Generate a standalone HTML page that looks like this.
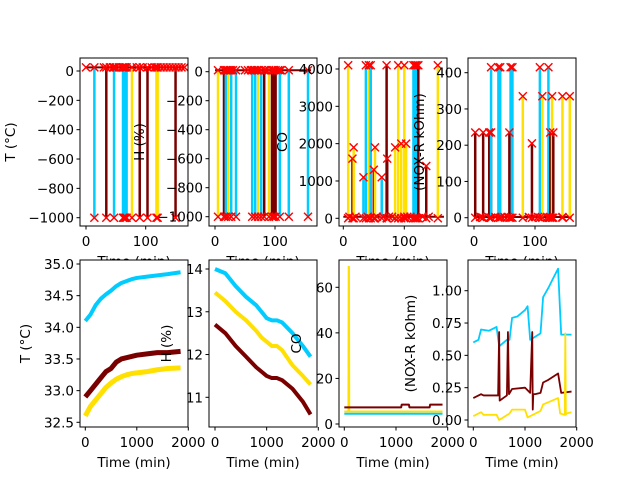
<!DOCTYPE html>
<html><head><meta charset="utf-8"><style>
html,body{margin:0;padding:0;background:#fff}
svg text{font-family:"DejaVu Sans","Liberation Sans",sans-serif;font-size:13.5px;fill:#000}
</style></head><body>
<svg id="c" width="640" height="480" viewBox="0 0 640 480" xmlns="http://www.w3.org/2000/svg"></svg>
<script>
const CY="#00ccff",MR="#7a0000",GD="#ffe000";
// ---- top row data (event lines) ----
const t1X=[14,34,47,62,64,66,68,77,90,103,118,120,150];
const t1C=["c","m","c","c","c","c","c","g","m","m","g","g","m"];
const t1Top=[25,25,25,25,25,25,25,25,25,25,25,25,25];
const t1Bot=[-1000,-1000,-1000,-1000,-1000,-1000,-1000,-1000,-1000,-1000,-1000,-1000,-1000];
const t1Extra=[0,30,40,45,50,55,60,85,95,110,115,125,130,135,140,145,155,160,165];
const t2X=[5,15,18,22,27,35,62,67,72,77,82,90,95,98,101,108,123,155];
const t2C=["g","m","c","g","c","c","c","c","g","c","m","g","m","m","m","c","c","c"];
const t2Top=[10,10,10,10,10,10,10,10,10,10,10,10,10,10,10,10,10,10];
const t2Bot=[-1000,-1000,-1000,-1000,-1000,-1000,-1000,-1000,-1000,-1000,-1000,-1000,-1000,-1000,-1000,-1000,-1000,-1000];
const t2Extra=[20,25,30,50,55,60,65,70,85,105,110];
const t3X=[8,15,17,33,37,42,45,50,52,63,71,72,85,90,95,100,103,115,118,120,123,136,155];
const t3C=["g","m","g","c","c","g","c","m","g","c","m","m","g","g","g","g","g","c","c","c","m","m","g"];
const t3Top=[4100,1600,1900,1100,4100,4100,4100,1300,1900,1100,4100,1600,1900,4100,2000,4100,2000,4100,4100,4100,4100,1400,4100];
const t3Bot=[0,0,0,0,0,0,0,0,0,0,0,0,0,0,0,0,0,0,0,0,0,0,0];
const t3Extra=[10,20,40,55,65,75,80,100,105,110,130,140];
const t4X=[2,15,25,28,28,40,43,60,58,63,80,95,108,112,122,125,128,130,145,157];
const t4C=["m","m","m","m","c","c","c","c","m","c","g","m","c","g","c","m","g","m","g","g"];
const t4Top=[235,235,235,235,415,415,415,415,235,415,335,205,415,335,415,235,335,235,335,335];
const t4Bot=[0,0,0,0,0,0,0,0,0,0,0,0,0,0,0,0,0,0,0,0];
const t4Extra=[10,12,35,45,50,55,90,100,105,120,125,145];
// ---- bottom row data ----
const bx1=[0,100,200,300,400,500,600,700,800,900,1000,1200,1400,1600,1850];
const b1Cyan=[34.1,34.2,34.35,34.45,34.52,34.58,34.65,34.7,34.73,34.76,34.78,34.8,34.82,34.84,34.87];
const b1Mar=[32.9,33.0,33.1,33.2,33.3,33.35,33.45,33.5,33.52,33.54,33.56,33.58,33.6,33.6,33.62];
const b1Gold=[32.6,32.75,32.85,32.95,33.05,33.12,33.18,33.22,33.25,33.27,33.28,33.3,33.33,33.35,33.36];
const bx2=[0,200,400,600,800,900,1000,1100,1200,1300,1500,1700,1850];
const b2Cyan=[14.0,13.9,13.6,13.35,13.15,13.0,12.85,12.8,12.8,12.75,12.5,12.2,11.95];
const b2Gold=[13.45,13.25,13.0,12.8,12.55,12.4,12.3,12.2,12.2,12.1,11.75,11.5,11.3];
const b2Mar=[12.7,12.5,12.2,11.95,11.7,11.6,11.5,11.45,11.45,11.4,11.2,10.9,10.6];
const bx3=[0,80,85,90,95,100,1100,1110,1250,1260,1650,1660,1900];
const b3Mar=[7.3,7.3,7.3,7.3,7.3,7.3,7.3,8.5,8.5,7.3,7.3,8.5,8.5];
const b3Gold=[5.5,5.5,69,69,5.5,5.5,5.5,5.5,5.5,5.5,5.5,5.5,5.5];
const b3Cyan=[4.5,4.5,4.5,4.5,4.5,4.5,4.5,4.5,4.5,4.5,4.5,4.5,4.5];
const bx4c=[0,100,150,300,450,500,650,700,750,850,1000,1050,1100,1300,1350,1450,1550,1640,1700,1900];
const b4Cyan=[0.6,0.62,0.7,0.69,0.72,0.57,0.62,0.62,0.79,0.8,0.85,0.88,0.62,0.67,0.95,1.02,1.1,1.17,0.66,0.66];
const bx4m=[0,150,200,480,500,510,650,670,690,750,1000,1100,1140,1150,1160,1200,1300,1350,1450,1640,1700,1900];
const b4Mar=[0.17,0.2,0.19,0.19,0.68,0.15,0.19,0.68,0.2,0.24,0.25,0.21,0.68,0.08,0.2,0.2,0.21,0.29,0.31,0.36,0.21,0.22];
const bx4g=[0,150,200,450,500,700,750,1000,1050,1300,1350,1640,1680,1770,1780,1790,1800,1900];
const b4Gold=[0.03,0.06,0.04,0.04,0.0,0.05,0.08,0.08,0.02,0.07,0.12,0.17,0.05,0.04,0.67,0.04,0.05,0.06];

const svg=document.getElementById('c');const NS="http://www.w3.org/2000/svg";
function mk(t,a,p){const e=document.createElementNS(NS,t);for(const k in a)e.setAttribute(k,a[k]);(p||svg).appendChild(e);return e;}
const col={c:CY,m:MR,g:GD};
function axis(o){
 const g=mk('g',{});
 
 
 const X=v=>o.xp0+(v-o.xv0)*(o.xp1-o.xp0)/(o.xv1-o.xv0);
 const Y=v=>o.yp0+(v-o.yv0)*(o.yp1-o.yp0)/(o.yv1-o.yv0);
 mk('rect',{x:o.L,y:o.T,width:o.W,height:o.H,fill:'#fff'},g);
 const cid='cl'+o.name;const cp=mk('clipPath',{id:cid},g);mk('rect',{x:o.L,y:o.T,width:o.W,height:o.H},cp);
 const pg=mk('g',{'clip-path':'url(#'+cid+')'},g);
 o.draw(pg,X,Y);
 mk('rect',{x:o.L,y:o.T,width:o.W,height:o.H,fill:'none',stroke:'#000','stroke-width':1},g);
 o.xt.forEach(v=>{const x=X(v);mk('line',{x1:x,x2:x,y1:o.T+o.H,y2:o.T+o.H+3.5,stroke:'#000'},g);
  const t=mk('text',{x:x,y:o.T+o.H+20,'text-anchor':'middle'},g);t.textContent=String(v).replace('-','−');
  
  });
 o.yt.forEach(v=>{const y=Y(v);mk('line',{x1:o.L,x2:o.L-3.5,y1:y,y2:y,stroke:'#000'},g);
  const t=mk('text',{x:o.L-6,y:y+5,'text-anchor':'end'},g);t.textContent=(o.fmt?o.fmt(v):String(v)).replace('-','−');
  
  });
 const xl=mk('text',{x:o.L+o.W/2,y:o.T+o.H+40,'text-anchor':'middle'},g);xl.textContent='Time (min)';
 
 
 const yl=mk('text',{x:o.ylx,y:o.T+o.H/2,'text-anchor':'middle',transform:'rotate(-90 '+o.ylx+' '+(o.T+o.H/2)+')'},g);yl.textContent=o.ylab;
 
 
}
function marker(p,x,y){const s=4;mk('path',{d:`M${x-s} ${y-s}L${x+s} ${y+s}M${x-s} ${y+s}L${x+s} ${y-s}`,stroke:'#ff0000','stroke-width':1.4,fill:'none'},p);}
function events(xs,cs,tops,bots,extra,base,hx0,hx1){return (p,X,Y)=>{
 mk('line',{x1:X(hx0),x2:X(hx1),y1:Y(base),y2:Y(base),stroke:MR,'stroke-width':2},p);
 xs.forEach((v,i)=>{const l=mk('line',{x1:X(v),x2:X(v),y1:Y(bots[i]),y2:Y(tops[i]),stroke:col[cs[i]],'stroke-width':2.5},p);
  
  });
 xs.forEach((v,i)=>{marker(p,X(v),Y(tops[i]));marker(p,X(v),Y(bots[i]));});
 extra.forEach(v=>marker(p,X(v),Y(base)));};}
function poly(p,X,Y,xs,ys,c,w,nm){const l=mk('polyline',{points:xs.map((v,i)=>X(v)+','+Y(ys[i])).join(' '),fill:'none',stroke:c,'stroke-width':w,'stroke-linejoin':'round'},p);
 
 }
const TT=58,TH=168,BT=260,BH=167,W=108;
axis({name:'top-temp-axes',L:80,T:TT,W:W,H:TH,xp0:86,xv0:0,xp1:145.7,xv1:100,yp0:71,yv0:0,yp1:217.7,yv1:-1000,
 xt:[0,100],yt:[0,-200,-400,-600,-800,-1000],ylab:'T (°C)',ylx:15,draw:events(t1X,t1C,t1Top,t1Bot,t1Extra,25,0,165)});
axis({name:'top-humidity-axes',L:209,T:TT,W:W,H:TH,xp0:215,xv0:0,xp1:275,xv1:100,yp0:71.7,yv0:0,yp1:216.7,yv1:-1000,
 xt:[0,100],yt:[0,-200,-400,-600,-800,-1000],ylab:'H (%)',ylx:144,draw:events(t2X,t2C,t2Top,t2Bot,t2Extra,10,0,160)});
axis({name:'top-co-axes',L:339,T:TT,W:W,H:TH,xp0:343.3,xv0:0,xp1:404.3,xv1:100,yp0:218.3,yv0:0,yp1:69,yv1:4000,
 xt:[0,100],yt:[0,1000,2000,3000,4000],ylab:'CO',ylx:287,draw:events(t3X,t3C,t3Top,t3Bot,t3Extra,40,0,165)});
axis({name:'top-nox-axes',L:468,T:TT,W:W,H:TH,xp0:474,xv0:0,xp1:535,xv1:100,yp0:217.7,yv0:0,yp1:72.7,yv1:400,
 xt:[0,100],yt:[0,100,200,300,400],ylab:'(NOX-R kOhm)',ylx:424,draw:events(t4X,t4C,t4Top,t4Bot,t4Extra,2,0,160)});
axis({name:'bottom-temp-axes',L:80,T:BT,W:W,H:BH,xp0:85.3,xv0:0,xp1:188.3,xv1:2000,yp0:264,yv0:35,yp1:422.3,yv1:32.5,
 xt:[0,1000,2000],yt:[32.5,33,33.5,34,34.5,35],fmt:v=>v.toFixed(1),ylab:'T (°C)',ylx:30,draw:(p,X,Y)=>{
 poly(p,X,Y,bx1,b1Cyan,CY,4,'temp-cyan-line');poly(p,X,Y,bx1,b1Mar,MR,5,'temp-maroon-line');poly(p,X,Y,bx1,b1Gold,GD,5,'temp-gold-line');}});
axis({name:'bottom-humidity-axes',L:209,T:BT,W:W,H:BH,xp0:215,xv0:0,xp1:318.3,xv1:2000,yp0:269,yv0:14,yp1:397.3,yv1:11,
 xt:[0,1000,2000],yt:[11,12,13,14],ylab:'H (%)',ylx:171,draw:(p,X,Y)=>{
 poly(p,X,Y,bx2,b2Cyan,CY,4,'hum-cyan-line');poly(p,X,Y,bx2,b2Gold,GD,4,'hum-gold-line');poly(p,X,Y,bx2,b2Mar,MR,4,'hum-maroon-line');}});
axis({name:'bottom-co-axes',L:339,T:BT,W:W,H:BH,xp0:344.3,xv0:0,xp1:447.7,xv1:2000,yp0:424,yv0:0,yp1:287.3,yv1:60,
 xt:[0,1000,2000],yt:[0,20,40,60],ylab:'CO',ylx:301,draw:(p,X,Y)=>{
 poly(p,X,Y,bx3,b3Cyan,CY,2,'co-cyan-line');poly(p,X,Y,bx3,b3Gold,GD,2,'co-gold-line');poly(p,X,Y,bx3,b3Mar,MR,2,'co-maroon-line');}});
axis({name:'bottom-nox-axes',L:468,T:BT,W:W,H:BH,xp0:473.3,xv0:0,xp1:576.7,xv1:2000,yp0:420,yv0:0,yp1:290.7,yv1:1,
 xt:[0,1000,2000],yt:[0,0.25,0.5,0.75,1],fmt:v=>v.toFixed(2),ylab:'(NOX-R kOhm)',ylx:415,draw:(p,X,Y)=>{
 poly(p,X,Y,bx4c,b4Cyan,CY,1.8,'nox-cyan-line');poly(p,X,Y,bx4m,b4Mar,MR,1.8,'nox-maroon-line');poly(p,X,Y,bx4g,b4Gold,GD,1.8,'nox-gold-line');}});
</script>
</body></html>
